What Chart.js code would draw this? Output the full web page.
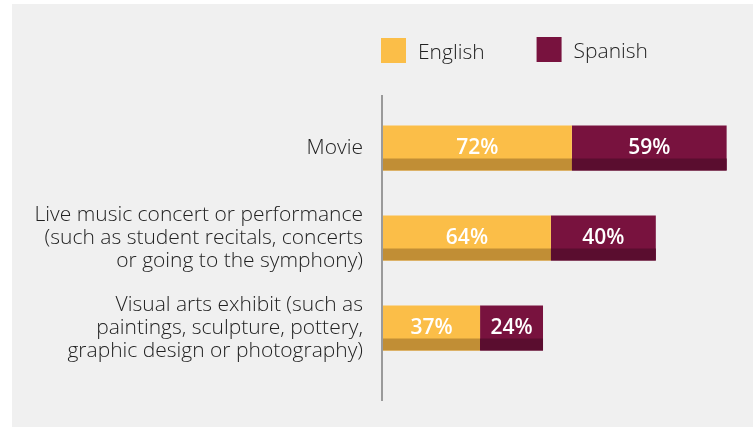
<!DOCTYPE html>
<html>
<head>
<meta charset="utf-8">
<script src="https://cdn.jsdelivr.net/npm/chart.js@4"></script>
<style>
  html, body { margin: 0; padding: 0; background: #ffffff; }
  #wrap { position: relative; width: 756px; height: 427px; }
  #panel { position: absolute; left: 12px; top: 4px; width: 741px; height: 423px; background: #f0f0f0; }
  #c { position: absolute; left: 0; top: 0; }
</style>
</head>
<body>
<div id="wrap">
  <div id="panel"></div>
  <canvas id="c" width="756" height="427"></canvas>
</div>
<script>
const categories = [
  "Movie",
  ["Live music concert or performance", "(such as student recitals, concerts", "or going to the symphony)"],
  ["Visual arts exhibit (such as", "paintings, sculpture, pottery,", "graphic design or photography)"]
];
const seriesNames = ["English", "Spanish"];
const englishValues = [72, 64, 37];
const spanishValues = [59, 40, 24];

const mainColors = ["#fbbe48", "#78123e"];
const stripeColors = ["#c18e35", "#5a0d2f"];
const FONT = "'Open Sans', 'Noto Sans', sans-serif";

const axisLinePlugin = {
  id: 'axisLine',
  beforeDatasetsDraw(chart) {
    const ctx = chart.ctx, a = chart.chartArea;
    ctx.save();
    ctx.strokeStyle = '#9a9a9a';
    ctx.lineWidth = 2;
    ctx.beginPath();
    ctx.moveTo(a.left - 1, a.top - 8);
    ctx.lineTo(a.left - 1, a.bottom + 28);
    ctx.stroke();
    ctx.restore();
  }
};

const stripeLabelPlugin = {
  id: 'stripeLabel',
  afterDatasetsDraw(chart) {
    const ctx = chart.ctx;
    ctx.save();
    chart.data.datasets.forEach((ds, di) => {
      const meta = chart.getDatasetMeta(di);
      meta.data.forEach((el, i) => {
        const p = el.getProps(['x', 'y', 'base', 'height'], true);
        const left = Math.min(p.x, p.base), right = Math.max(p.x, p.base);
        const bottom = p.y + p.height / 2;
        const sh = Math.round(p.height * 0.27);
        ctx.fillStyle = stripeColors[di];
        ctx.fillRect(left, bottom - sh, right - left, sh);
        ctx.fillStyle = '#ffffff';
        ctx.font = "600 21px " + FONT;
        ctx.textAlign = 'center';
        ctx.textBaseline = 'middle';
        ctx.fillText(ds.data[i] + '%', (left + right) / 2, p.y);
      });
    });
    ctx.restore();
  }
};

const legendPlugin = {
  id: 'customLegend',
  afterDraw(chart) {
    const ctx = chart.ctx, a = chart.chartArea;
    ctx.save();
    ctx.font = "300 21px " + FONT;
    ctx.textBaseline = 'middle';
    ctx.textAlign = 'left';
    let x = a.left - 2;
    chart.data.datasets.forEach((ds, di) => {
      const top = di === 0 ? 38 : 37;
      ctx.fillStyle = ds.backgroundColor;
      ctx.fillRect(x, top, 25, 25);
      ctx.fillStyle = '#222222';
      ctx.fillText(ds.label, x + 37, top + 15);
      x += 37 + ctx.measureText(ds.label).width + 52;
    });
    ctx.restore();
  }
};

new Chart(document.getElementById('c'), {
  type: 'bar',
  data: {
    labels: categories,
    datasets: [
      { label: seriesNames[0], data: englishValues, backgroundColor: mainColors[0] },
      { label: seriesNames[1], data: spanishValues, backgroundColor: mainColors[1] }
    ]
  },
  options: {
    indexAxis: 'y',
    responsive: false,
    animation: false,
    layout: { padding: { top: 103, bottom: 54, right: 11, left: 0 } },
    datasets: { bar: { barPercentage: 0.5, categoryPercentage: 1.0 } },
    scales: {
      x: {
        stacked: true, min: 0, max: 138, display: false
      },
      y: {
        stacked: true,
        grid: { display: false, drawTicks: false },
        border: { display: false },
        ticks: {
          padding: 20,
          color: '#222222',
          font: { family: FONT, size: 21, weight: '300', lineHeight: 1.1 }
        },
        afterFit(scale) { scale.width = 383; }
      }
    },
    plugins: {
      legend: { display: false },
      tooltip: { enabled: false }
    }
  },
  plugins: [axisLinePlugin, stripeLabelPlugin, legendPlugin]
});
</script>
</body>
</html>
